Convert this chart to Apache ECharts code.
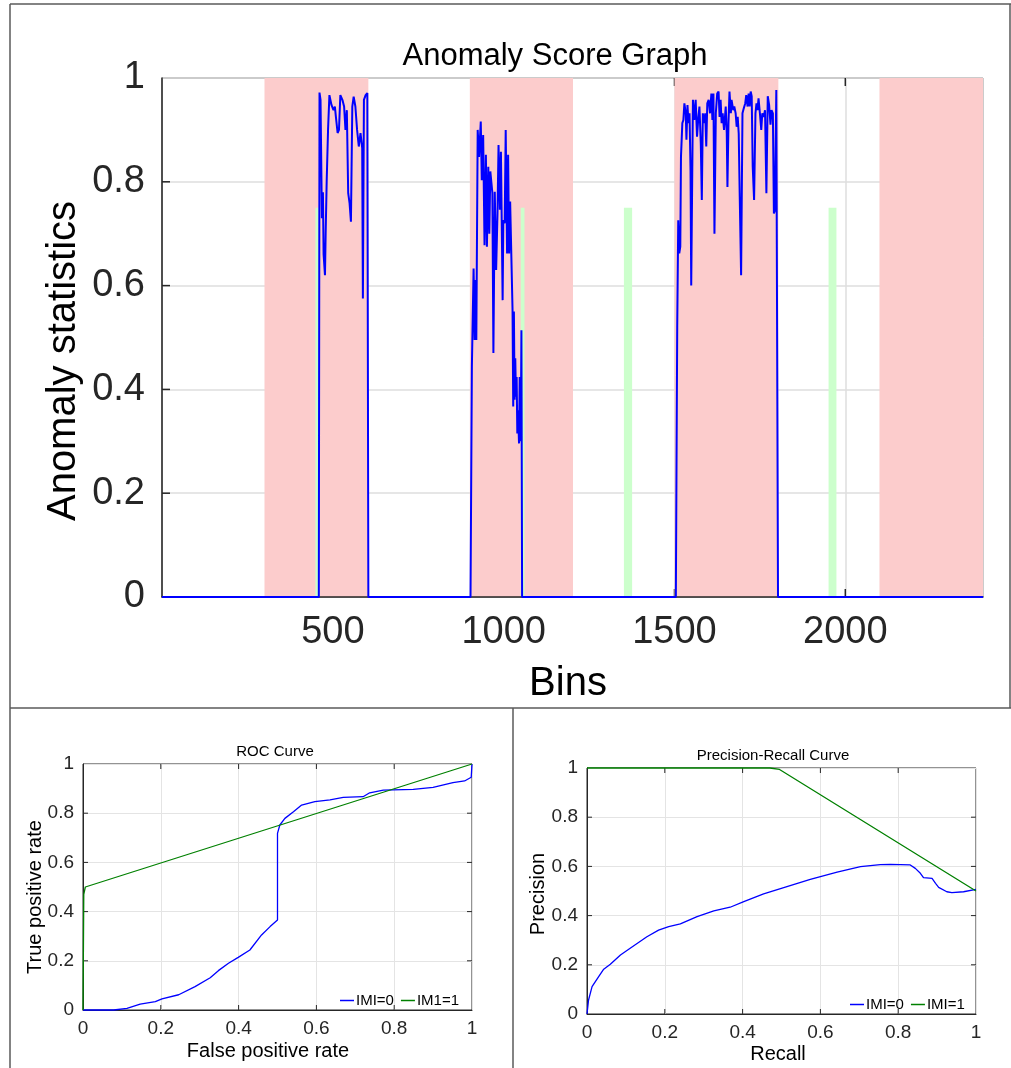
<!DOCTYPE html>
<html>
<head>
<meta charset="utf-8">
<script src="https://cdn.jsdelivr.net/npm/echarts@6/dist/echarts.min.js"></script>
<style>
  html, body { margin: 0; padding: 0; background: #ffffff; }
  #chart { width: 1011px; height: 1068px; }
</style>
</head>
<body>
<div id="chart"></div>
<script>
const FONT = '"Liberation Sans", Arial, Helvetica, sans-serif';

// ---- Anomaly score trace (bin, score) ----
const scoreBins = [
  0, 459, 461, 464, 468, 471, 473, 477, 479, 482, 486, 490, 496, 502, 506, 509, 514, 518, 522, 528,
  533, 537, 541, 545, 549, 553, 557, 561, 566, 571, 576, 581, 586, 588, 591, 596, 601, 604,
  903, 907, 912, 915, 918, 920, 924, 928, 933, 936, 940, 944, 948, 951, 955, 958, 961, 964, 967, 970,
  974, 978, 982, 985, 989, 992, 997, 999, 1003, 1006, 1010, 1013, 1016, 1019, 1022, 1026, 1028, 1030,
  1032, 1034, 1036, 1038, 1040, 1042, 1045, 1047, 1050, 1052, 1054,
  1504, 1508, 1511, 1514, 1517, 1519, 1523, 1526, 1529, 1533, 1535, 1538, 1541, 1544, 1547, 1549,
  1554, 1558, 1562, 1566, 1570, 1573, 1577, 1580, 1583, 1587, 1590, 1593, 1596, 1600, 1604, 1608,
  1611, 1614, 1617, 1621, 1625, 1629, 1632, 1635, 1638, 1641, 1645, 1650, 1653, 1655, 1658, 1661,
  1665, 1667, 1672, 1675, 1679, 1682, 1685, 1688, 1691, 1695, 1699, 1703, 1707, 1710, 1714, 1717,
  1720, 1723, 1726, 1729, 1733, 1737, 1740, 1743, 1746, 1750, 1754, 1757, 1761, 1765, 1769, 1773,
  1777, 1781, 1784, 1788, 1791, 1794, 1798, 1800, 1803, 2403
];
const scoreValues = [
  0, 0, 0.972, 0.958, 0.73, 0.78, 0.66, 0.62, 0.70, 0.80, 0.90, 0.967, 0.948, 0.938, 0.945, 0.925, 0.894, 0.90, 0.967, 0.958,
  0.945, 0.90, 0.938, 0.778, 0.759, 0.723, 0.945, 0.964, 0.945, 0.90, 0.868, 0.894, 0.865, 0.575, 0.958, 0.967, 0.971, 0,
  0, 0.444, 0.633, 0.495, 0.611, 0.495, 0.90, 0.848, 0.916, 0.803, 0.89, 0.678, 0.852, 0.675, 0.829, 0.70, 0.82, 0.818, 0.778, 0.47,
  0.781, 0.63, 0.74, 0.871, 0.746, 0.858, 0.572, 0.726, 0.72, 0.90, 0.662, 0.852, 0.662, 0.762, 0.76, 0.553, 0.367, 0.55,
  0.38, 0.46, 0.386, 0.424, 0.315, 0.36, 0.296, 0.424, 0.30, 0.514, 0,
  0, 0.52, 0.726, 0.662, 0.675, 0.848, 0.913, 0.919, 0.951, 0.932, 0.881, 0.948, 0.913, 0.932, 0.822, 0.60,
  0.958, 0.919, 0.958, 0.887, 0.925, 0.945, 0.874, 0.765, 0.932, 0.913, 0.932, 0.868, 0.951, 0.958, 0.932, 0.97,
  0.919, 0.97, 0.70, 0.932, 0.97, 0.974, 0.925, 0.958, 0.913, 0.932, 0.90, 0.945, 0.894, 0.79, 0.913, 0.974,
  0.932, 0.958, 0.938, 0.945, 0.932, 0.906, 0.925, 0.893, 0.771, 0.62, 0.932, 0.942, 0.951, 0.967, 0.945, 0.97,
  0.945, 0.974, 0.965, 0.829, 0.765, 0.932, 0.951, 0.938, 0.961, 0.932, 0.90, 0.932, 0.925, 0.938, 0.778, 0.965,
  0.948, 0.91, 0.938, 0.932, 0.739, 0.745, 0.977, 0.977, 0, 0
];

// ---- Labelled anomaly windows and detections (bins) ----
const anomalyWindows = [[300, 604], [901, 1203], [1500, 1804], [2100, 2403]];
const detectionRanges = [[449, 458], [1050, 1061], [1352, 1376], [1951, 1974]];
const detectionLevel = 0.75;

const binRange = [0, 2403];
const binTicks = [500, 1000, 1500, 2000];
const scoreTicks = [0.2, 0.4, 0.6, 0.8];
const rateTicks = [0.2, 0.4, 0.6, 0.8];

// ---- ROC curves ----
const rocFpr0 = [0, 0.019, 0.079, 0.113, 0.147, 0.186, 0.203, 0.246, 0.288, 0.327, 0.348, 0.374, 0.399, 0.429, 0.459, 0.481, 0.5,
  0.5, 0.506, 0.519, 0.541, 0.562, 0.596, 0.635, 0.669, 0.72, 0.737, 0.772, 0.849, 0.9, 0.951, 0.981, 0.998, 1.0];
const rocTpr0 = [0, 0, 0, 0.007, 0.024, 0.034, 0.045, 0.062, 0.095, 0.131, 0.16, 0.19, 0.214, 0.244, 0.305, 0.339, 0.366,
  0.718, 0.752, 0.779, 0.806, 0.833, 0.847, 0.854, 0.864, 0.867, 0.883, 0.894, 0.897, 0.905, 0.924, 0.931, 0.946, 1.0];
const rocFpr1 = [0, 0.002, 0.006, 1];
const rocTpr1 = [0, 0.47, 0.5, 1];

// ---- Precision-recall curves ----
const prRecall0 = [0, 0.004, 0.013, 0.03, 0.043, 0.06, 0.086, 0.111, 0.154, 0.184, 0.21, 0.24, 0.283, 0.326, 0.368, 0.403, 0.454,
  0.514, 0.574, 0.643, 0.703, 0.754, 0.78, 0.831, 0.844, 0.857, 0.865, 0.887, 0.896, 0.904, 0.925, 0.938, 0.968, 1.0];
const prPrecision0 = [0, 0.057, 0.111, 0.152, 0.182, 0.202, 0.24, 0.267, 0.314, 0.341, 0.355, 0.366, 0.396, 0.419, 0.434, 0.457, 0.488,
  0.518, 0.547, 0.577, 0.599, 0.607, 0.608, 0.606, 0.592, 0.572, 0.554, 0.551, 0.531, 0.515, 0.497, 0.493, 0.497, 0.507];
const prRecall1 = [0, 0.47, 0.495, 1];
const prPrecision1 = [1, 1, 0.994, 0.5];

const legendNames = { roc: ['IMI=0', 'IM1=1'], pr: ['IMI=0', 'IMI=1'] };

// ---- helpers ----
const AXIS_DARK = '#262626';
const zip = (xs, ys) => xs.map((x, i) => [x, ys[i]]);

function bandRenderer(fill) {
  return function (params, api) {
    const topLeft = api.coord([api.value(0), api.value(2)]);
    const bottomRight = api.coord([api.value(1), 0]);
    return {
      type: 'rect',
      shape: { x: topLeft[0], y: topLeft[1], width: bottomRight[0] - topLeft[0], height: bottomRight[1] - topLeft[1] },
      style: { fill: fill }
    };
  };
}

// Inward tick marks on all four sides of a plot box.
// Each data item is [side, value]: side 0 = x tick, side 1 = y tick.
function tickRenderer(xExtent, yExtent, len, width) {
  const style = { stroke: AXIS_DARK, lineWidth: width };
  return function (params, api) {
    const side = api.value(0);
    const v = api.value(1);
    let a, b, shapes;
    if (side === 0) {
      a = api.coord([v, yExtent[0]]);
      b = api.coord([v, yExtent[1]]);
      shapes = [
        { x1: a[0], y1: a[1], x2: a[0], y2: a[1] - len },
        { x1: b[0], y1: b[1], x2: b[0], y2: b[1] + len }
      ];
    } else {
      a = api.coord([xExtent[0], v]);
      b = api.coord([xExtent[1], v]);
      shapes = [
        { x1: a[0], y1: a[1], x2: a[0] + len, y2: a[1] },
        { x1: b[0], y1: b[1], x2: b[0] - len, y2: b[1] }
      ];
    }
    return { type: 'group', children: shapes.map(s => ({ type: 'line', shape: s, style: style })) };
  };
}
const tickData = (xs, ys) => xs.map(v => [0, v]).concat(ys.map(v => [1, v]));

function unitAxis(gridIndex, position, withLabels) {
  return {
    type: 'value', gridIndex: gridIndex, position: position,
    min: 0, max: 1, interval: 0.2,
    axisLine: { show: withLabels, lineStyle: { color: AXIS_DARK, width: 1 } },
    axisTick: { show: false },
    axisLabel: { show: withLabels, color: AXIS_DARK, fontSize: 19, fontFamily: FONT, margin: 9 },
    splitLine: { show: withLabels, lineStyle: { color: '#e4e4e4', width: 1 } }
  };
}

const chart = echarts.init(document.getElementById('chart'), null, { renderer: 'canvas' });

const textEl = (text, x, y, size, rotate) => ({
  type: 'text', x: x, y: y, rotation: rotate ? Math.PI / 2 : 0, silent: true,
  style: { text: text, fontSize: size, fontFamily: FONT, fill: '#000000', align: 'center', verticalAlign: 'middle' }
});
const frameLine = (x1, y1, x2, y2) => ({
  type: 'line', silent: true, shape: { x1: x1, y1: y1, x2: x2, y2: y2 },
  style: { stroke: '#5a5a5a', lineWidth: 1.5 }
});

const legendBase = {
  icon: 'rect', itemWidth: 14, itemHeight: 1.5, itemGap: 7, selectedMode: false,
  textStyle: { fontSize: 15, fontFamily: FONT, color: '#000000', padding: [0, 0, 0, -3] }
};

const option = {
  animation: false,
  backgroundColor: '#ffffff',
  grid: [
    { left: 162, top: 78, width: 821, height: 519, show: true, borderColor: AXIS_DARK, borderWidth: 1, backgroundColor: 'transparent' },
    { left: 83, top: 764, width: 389, height: 246, show: true, borderColor: AXIS_DARK, borderWidth: 1, backgroundColor: 'transparent' },
    { left: 587, top: 768, width: 389, height: 246, show: true, borderColor: AXIS_DARK, borderWidth: 1, backgroundColor: 'transparent' }
  ],
  xAxis: [
    { // bins: labels and vertical grid
      type: 'value', gridIndex: 0, position: 'bottom', min: binRange[0], max: binRange[1], interval: 500,
      axisLine: { show: false },
      axisTick: { show: false },
      axisLabel: {
        color: AXIS_DARK, fontSize: 38, fontFamily: FONT, margin: 17,
        formatter: v => (binTicks.indexOf(v) >= 0 ? String(v) : '')
      },
      splitLine: { show: true, lineStyle: { color: '#dedede', width: 1.5 } }
    },
    { // baseline drawn over the shaded windows
      type: 'value', gridIndex: 0, position: 'bottom', min: binRange[0], max: binRange[1], z: 5,
      axisLine: { show: true, lineStyle: { color: AXIS_DARK, width: 1.5 } },
      axisTick: { show: false }, axisLabel: { show: false }, splitLine: { show: false }
    },
    unitAxis(1, 'bottom', true),
    unitAxis(2, 'bottom', true)
  ],
  yAxis: [
    {
      type: 'value', gridIndex: 0, position: 'left', min: 0, max: 1, interval: 0.2,
      axisLine: { show: true, lineStyle: { color: AXIS_DARK, width: 1.5 } },
      axisTick: { show: false },
      axisLabel: { color: AXIS_DARK, fontSize: 38, fontFamily: FONT, margin: 17 },
      splitLine: { show: true, lineStyle: { color: '#dedede', width: 1.5 } }
    },
    unitAxis(1, 'left', true),
    unitAxis(2, 'left', true)
  ],
  legend: [
    Object.assign({ data: legendNames.roc, left: 335, top: 988 }, legendBase),
    Object.assign({ data: legendNames.pr, left: 845, top: 992 }, legendBase)
  ],
  series: [
    {
      type: 'custom', name: 'score ticks', xAxisIndex: 0, yAxisIndex: 0, z: 1, silent: true,
      renderItem: tickRenderer(binRange, [0, 1], 8, 1.5),
      data: tickData(binTicks, scoreTicks)
    },
    {
      type: 'custom', name: 'anomaly windows', xAxisIndex: 0, yAxisIndex: 0, z: 2, silent: true,
      renderItem: bandRenderer('#fccccc'),
      encode: { x: [0, 1], y: 2 },
      data: anomalyWindows.map(w => [w[0], w[1], 1])
    },
    {
      type: 'custom', name: 'detections', xAxisIndex: 0, yAxisIndex: 0, z: 3, silent: true,
      renderItem: bandRenderer('#ccffcc'),
      encode: { x: [0, 1], y: 2 },
      data: detectionRanges.map(r => [r[0], r[1], detectionLevel])
    },
    {
      type: 'line', name: 'score', xAxisIndex: 0, yAxisIndex: 0, z: 6, silent: true,
      symbol: 'none', clip: false,
      lineStyle: { color: '#0000ff', width: 2 },
      data: zip(scoreBins, scoreValues)
    },
    {
      type: 'custom', name: 'roc ticks', xAxisIndex: 2, yAxisIndex: 1, z: 1, silent: true,
      renderItem: tickRenderer([0, 1], [0, 1], 5, 1),
      data: tickData(rateTicks, rateTicks)
    },
    {
      type: 'custom', name: 'pr ticks', xAxisIndex: 3, yAxisIndex: 2, z: 1, silent: true,
      renderItem: tickRenderer([0, 1], [0, 1], 5, 1),
      data: tickData(rateTicks, rateTicks)
    },
    {
      type: 'line', name: legendNames.roc[0], xAxisIndex: 2, yAxisIndex: 1, z: 4, symbol: 'none', clip: false,
      itemStyle: { color: '#0000ff' }, lineStyle: { color: '#0000ff', width: 1.3 },
      data: zip(rocFpr0, rocTpr0)
    },
    {
      type: 'line', name: legendNames.roc[1], xAxisIndex: 2, yAxisIndex: 1, z: 4, symbol: 'none', clip: false,
      itemStyle: { color: '#008000' }, lineStyle: { color: '#008000', width: 1.3 },
      data: zip(rocFpr1, rocTpr1)
    },
    {
      type: 'line', name: legendNames.pr[0], xAxisIndex: 3, yAxisIndex: 2, z: 4, symbol: 'none', clip: false,
      itemStyle: { color: '#0000ff' }, lineStyle: { color: '#0000ff', width: 1.3 },
      data: zip(prRecall0, prPrecision0)
    },
    {
      type: 'line', name: legendNames.pr[1], xAxisIndex: 3, yAxisIndex: 2, z: 4, symbol: 'none', clip: false,
      itemStyle: { color: '#008000' }, lineStyle: { color: '#008000', width: 1.3 },
      data: zip(prRecall1, prPrecision1)
    }
  ],
  graphic: [
    // panel frames
    frameLine(10, 4, 1011, 4),
    frameLine(10, 4, 10, 1068),
    frameLine(1010, 4, 1010, 708),
    frameLine(10, 708, 1011, 708),
    frameLine(513, 708, 513, 1068),
    // titles and axis names
    textEl('Anomaly Score Graph', 555, 56, 31, false),
    textEl('Bins', 568, 684, 40, false),
    textEl('Anomaly statistics', 64, 361, 40, true),
    textEl('ROC Curve', 275, 752, 15, false),
    textEl('False positive rate', 268, 1051, 20, false),
    textEl('True positive rate', 35, 897, 20, true),
    textEl('Precision-Recall Curve', 773, 756, 15, false),
    textEl('Recall', 778, 1054, 20, false),
    textEl('Precision', 538, 894, 20, true)
  ]
};

chart.setOption(option);
</script>
</body>
</html>
